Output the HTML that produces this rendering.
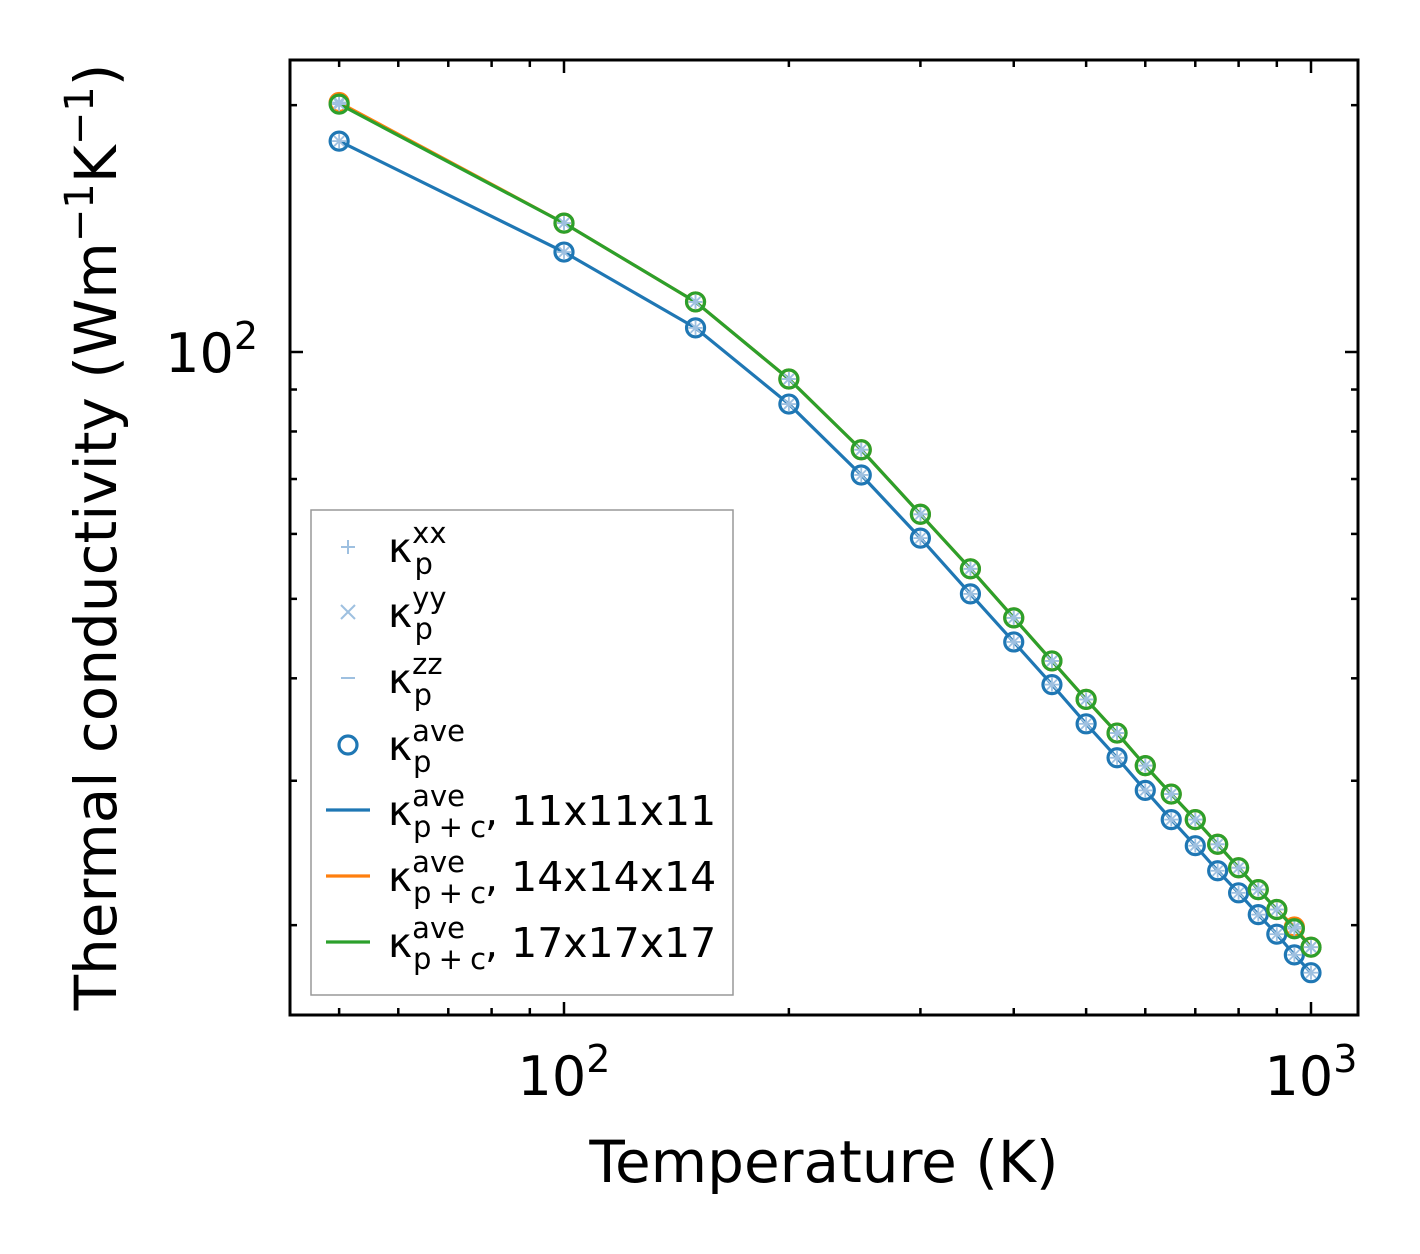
<!DOCTYPE html>
<html><head><meta charset="utf-8"><style>
body{margin:0;background:#fff;}
svg{display:block;font-family:"DejaVu Sans","Liberation Sans",sans-serif;}
</style></head><body>
<svg id="chart" width="1420" height="1254">
<g id="marks"></g>
<rect x="290" y="60" width="1068" height="955" fill="none" stroke="#000" stroke-width="3"/>
<g id="ticks"></g>
<text x="564" y="1095" font-size="54" text-anchor="middle">10<tspan dy="-23" font-size="38">2</tspan></text>
<text x="1311" y="1095" font-size="54" text-anchor="middle">10<tspan dy="-23" font-size="38">3</tspan></text>
<text x="258" y="372" font-size="54" text-anchor="end">10<tspan dy="-23" font-size="38">2</tspan></text>
<text x="824" y="1182" font-size="58" text-anchor="middle">Temperature (K)</text>
<text transform="translate(116,537) rotate(-90)" font-size="58" text-anchor="middle">Thermal conductivity (Wm<tspan dy="-23" font-size="40">−1</tspan><tspan dy="23">K</tspan><tspan dy="-23" font-size="40">−1</tspan><tspan dy="23">)</tspan></text>
<g>
<rect x="311" y="510" width="422" height="485" fill="#fff" fill-opacity="0.8" stroke="#999" stroke-width="1.5"/>
<g stroke="#9ec0e0" stroke-width="2"><line x1="341" y1="547" x2="355" y2="547"/><line x1="348" y1="540" x2="348" y2="554"/>
<line x1="341" y1="605" x2="355" y2="619"/><line x1="341" y1="619" x2="355" y2="605"/>
<line x1="341" y1="678" x2="355" y2="678"/></g>
<circle cx="348" cy="745" r="9" fill="none" stroke="#1f77b4" stroke-width="3.2"/>
<line x1="326" y1="810" x2="370" y2="810" stroke="#1f77b4" stroke-width="3.2"/>
<line x1="326" y1="876" x2="370" y2="876" stroke="#ff7f0e" stroke-width="3.2"/>
<line x1="326" y1="942" x2="370" y2="942" stroke="#2ca02c" stroke-width="3.2"/>
<g font-size="41">
<text x="388" y="562">κ<tspan font-size="29" dy="-19">xx</tspan><tspan font-size="29" dx="-32" dy="31">p</tspan></text>
<text x="388" y="627">κ<tspan font-size="29" dy="-19">yy</tspan><tspan font-size="29" dx="-32" dy="31">p</tspan></text>
<text x="388" y="693">κ<tspan font-size="29" dy="-19">zz</tspan><tspan font-size="29" dx="-29" dy="31">p</tspan></text>
<text x="388" y="760">κ<tspan font-size="29" dy="-19">ave</tspan><tspan font-size="29" dx="-52" dy="31">p</tspan></text>
<text x="388" y="825">κ<tspan font-size="29" dy="-19">ave</tspan><tspan font-size="29" dx="-52" dy="31" letter-spacing="-1">p + c</tspan><tspan dy="-12">, 11x11x11</tspan></text>
<text x="388" y="891">κ<tspan font-size="29" dy="-19">ave</tspan><tspan font-size="29" dx="-52" dy="31" letter-spacing="-1">p + c</tspan><tspan dy="-12">, 14x14x14</tspan></text>
<text x="388" y="957">κ<tspan font-size="29" dy="-19">ave</tspan><tspan font-size="29" dx="-52" dy="31" letter-spacing="-1">p + c</tspan><tspan dy="-12">, 17x17x17</tspan></text>
</g></g>
</svg>
<script>
const temps=[50,100,150,200,250,300,350,400,450,500,550,600,650,700,750,800,850,900,950,1000];
const k11=[180.8,132.4,107,86.4,70.8,59.3,50.7,44.3,39.3,35.2,32.0,29.2,26.9,25.0,23.3,21.9,20.6,19.5,18.4,17.5];
const k14=[201.5,143.6,115.1,92.7,76.0,63.4,54.4,47.4,42.0,37.7,34.3,31.3,28.9,26.9,25.1,23.5,22.1,20.9,19.9,18.8];
const k17=[200.6,143.6,115.1,92.7,76.0,63.4,54.4,47.4,42.0,37.7,34.3,31.3,28.9,26.9,25.1,23.5,22.1,20.9,19.8,18.8];
const NS="http://www.w3.org/2000/svg";
const X=v=>564+747*(Math.log10(v)-2);
const Y=v=>352-820*(Math.log10(v)-2);
const marks=document.getElementById('marks');
function mk(t,a,p){const e=document.createElementNS(NS,t);for(const k in a)e.setAttribute(k,a[k]);p.appendChild(e);return e;}
function series(vals,color,name,circ){
  const pl=mk('polyline',{points:temps.map((t,i)=>X(t)+','+Y(vals[i])).join(' '),fill:'none',stroke:color,'stroke-width':3.2},marks);
  
  
  temps.forEach((t,i)=>{
    const cx=X(t),cy=Y(vals[i]);
    const g=mk('g',{stroke:'#9ec0e0','stroke-width':1.8},marks);
    
    
    mk('line',{x1:cx-7,y1:cy,x2:cx+7,y2:cy},g);mk('line',{x1:cx,y1:cy-7,x2:cx,y2:cy+7},g);
    mk('line',{x1:cx-5,y1:cy-5,x2:cx+5,y2:cy+5},g);mk('line',{x1:cx-5,y1:cy+5,x2:cx+5,y2:cy-5},g);
    const c=mk('circle',{cx:cx,cy:cy,r:9,fill:'none',stroke:circ,'stroke-width':3.2},marks);
    
    
  });
}
series(k11,'#1f77b4','kappa-11','#1f77b4');
series(k14,'#ff7f0e','kappa-14','#ff7f0e');
series(k17,'#2ca02c','kappa-17','#2ca02c');
const tk=document.getElementById('ticks');
function tick(x1,y1,x2,y2){const l=mk('line',{x1,y1,x2,y2,stroke:'#000','stroke-width':2.5},tk);}
[50,60,70,80,90,100,200,300,400,500,600,700,800,900,1000].forEach(v=>{const x=X(v),L=(v==100||v==1000)?13:7;tick(x,1015,x,1015-L);tick(x,60,x,60+L);});
[20,30,40,50,60,70,80,90,100,200].forEach(v=>{const y=Y(v),L=(v==100)?13:7;tick(290,y,290+L,y);tick(1358,y,1358-L,y);});
</script>
</body></html>
